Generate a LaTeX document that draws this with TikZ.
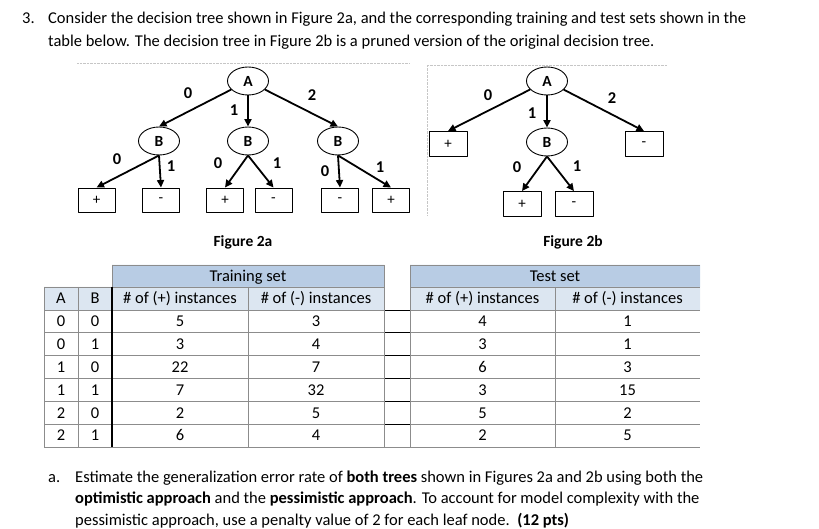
\documentclass[tikz,border=0pt]{standalone}
\usepackage{fontspec}
\setmainfont{Carlito}
\usetikzlibrary{shapes.geometric,arrows.meta}
\definecolor{hdrblue}{RGB}{184,204,228}
\definecolor{subblue}{RGB}{220,230,241}
\definecolor{gridgray}{RGB}{140,140,140}
\begin{document}
\begin{tikzpicture}[x=1pt, y=-1pt, line join=round, >={Triangle[length=7.5pt,width=7pt]},
	font=\fontsize{16.5}{19}\selectfont,
	dnode/.style={ellipse, draw, line width=0.9pt, minimum width=41pt, minimum height=28pt, inner sep=0pt, font=\fontsize{15.5}{17}\selectfont\bfseries},
	leaf/.style={rectangle, draw, line width=0.9pt, minimum width=37pt, minimum height=24pt, inner sep=0pt, font=\fontsize{15}{17}\selectfont},
	elab/.style={inner sep=0pt, font=\fontsize{16.5}{18}\selectfont\bfseries},
	branch/.style={->, line width=1.8pt},
	figcap/.style={inner sep=0pt, font=\fontsize{15.5}{18}\selectfont\bfseries},
	txtline/.style={anchor=base west, inner sep=0pt},
	cell/.style={anchor=base, inner sep=0pt},
	grid/.style={draw=gridgray, line width=0.7pt}]
	\useasboundingbox (0,0) rectangle (819,529);
	% question text
	\node[txtline] (q3) at (22,24) {3.};
	\node[txtline] (q1) at (48,24) {Consider the decision tree shown in Figure 2a, and the corresponding training and test sets shown in the};
	\node[txtline] (q2) at (48,46.7) {table below. The decision tree in Figure 2b is a pruned version of the original decision tree.};
	%
	% Figure 2a
	\draw[densely dotted, gray!45] (77,63) -- (410,63);
	\node[dnode] (A) at (248,81) {A};
	\node[dnode] (B1) at (159,141) {B};
	\node[dnode] (B2) at (248,141) {B};
	\node[dnode] (B3) at (338,141) {B};
	\node[leaf] (L1) at (96.5,200) {+};
	\node[leaf] (L2) at (161,200) {-};
	\node[leaf] (L3) at (225,200) {+};
	\node[leaf] (L4) at (273.5,200) {-};
	\node[leaf] (L5) at (340,200) {-};
	\node[leaf] (L6) at (391,200) {+};
	\draw[branch] (A) -- (B1.north);
	\draw[branch] (A) -- (B2);
	\draw[branch] (A) -- (B3.north);
	\draw[branch] (B1.south) -- (L1.north);
	\draw[branch] (B1.south) -- (L2.north);
	\draw[branch] (B2.south) -- (L3.north);
	\draw[branch] (B2.south) -- (L4.north);
	\draw[branch] (B3.south) -- (L5.north);
	\draw[branch] (B3.south) -- (L6.north);
	\node[elab] (eA0) at (188,93) {0};
	\node[elab] (eA1) at (234,110) {1};
	\node[elab] (eA2) at (312,95) {2};
	\node[elab] (e10) at (117,159) {0};
	\node[elab] (e11) at (171,166) {1};
	\node[elab] (e20) at (218,163) {0};
	\node[elab] (e21) at (277,163) {1};
	\node[elab] (e30) at (325,171) {0};
	\node[elab] (e31) at (380,167) {1};
	\node[figcap] (figa) at (243,242) {Figure 2a};
	%
	% Figure 2b
	\draw[densely dotted, gray!45] (427,215) -- (427,65) -- (667,65);
	\node[dnode] (pA) at (547,81) {A};
	\node[dnode] (pB) at (547,142) {B};
	\node[leaf, minimum width=38pt, minimum height=25pt] (P1) at (448,144) {+};
	\node[leaf, minimum width=38pt, minimum height=25pt] (P2) at (644,144) {-};
	\node[leaf, minimum width=38pt, minimum height=25pt] (P3) at (522,204) {+};
	\node[leaf, minimum width=38pt, minimum height=25pt] (P4) at (574,204) {-};
	\draw[branch] (pA) -- (P1.north);
	\draw[branch] (pA) -- (pB);
	\draw[branch] (pA) -- (P2.north);
	\draw[branch] (pB.south) -- (P3.north);
	\draw[branch] (pB.south) -- (P4.north);
	\node[elab] (fA0) at (488,95) {0};
	\node[elab] (fA1) at (532,113) {1};
	\node[elab] (fA2) at (612,98) {2};
	\node[elab] (fB0) at (517,167) {0};
	\node[elab] (fB1) at (577,166) {1};
	\node[figcap] (figb) at (573,242) {Figure 2b};
	%
	% tables
	\fill[hdrblue] (112,265) rectangle (384,287) (410,265) rectangle (700,287);
	\fill[subblue] (44,287) rectangle (384,310) (410,287) rectangle (700,310);
	\draw[grid] (112,265) -- (384,265) (410,265) -- (700,265)
		(44,287) -- (384,287) (410,287) -- (700,287);
	\foreach \i in {0,...,6}
		\draw[grid] (44,{310+22.83*\i}) -- (700,{310+22.83*\i});
	\foreach \i in {0,...,5}
		\draw[line width=0.9pt] (384,{310+22.83*\i}) -- (410,{310+22.83*\i});
	\draw[grid] (44,287) -- (44,447) (78,287) -- (78,447) (112,265) -- (112,287)
		(248,287) -- (248,447) (384,265) -- (384,447) (410,265) -- (410,447)
		(555,287) -- (555,447);
	\draw[line width=2pt] (112,287) -- (112,447);
	\node[cell] (trn) at (248,281.5) {Training set};
	\node[cell] (tst) at (555,281.5) {Test set};
	\node[cell] (hA) at (61,304) {A};
	\node[cell] (hB) at (95,304) {B};
	\node[cell] (hp) at (180,304) {\# of (+) instances};
	\node[cell] (hm) at (316,304) {\# of (-) instances};
	\node[cell] (hp2) at (482.5,304) {\# of (+) instances};
	\node[cell] (hm2) at (627.5,304) {\# of (-) instances};
	\foreach \a/\b/\p/\m/\tp/\tm [count=\i] in {0/0/5/3/4/1, 0/1/3/4/3/1, 1/0/22/7/6/3, 1/1/7/32/3/15, 2/0/2/5/5/2, 2/1/6/4/2/5} {
		\pgfmathsetmacro\yy{304+22.83*\i}
		\node[cell] (a\i) at (61,\yy) {\a};
		\node[cell] (b\i) at (95,\yy) {\b};
		\node[cell] (p\i) at (180,\yy) {\p};
		\node[cell] (m\i) at (316,\yy) {\m};
		\node[cell] (tp\i) at (482.5,\yy) {\tp};
		\node[cell] (tm\i) at (627.5,\yy) {\tm};
	}
	%
	% part a
	\node[txtline] (qa) at (48,482) {a.};
	\node[txtline] (qa1) at (75,482) {Estimate the generalization error rate of \textbf{both trees} shown in Figures 2a and 2b using both the};
	\node[txtline] (qa2) at (75,503.5) {\textbf{optimistic approach} and the \textbf{pessimistic approach}. To account for model complexity with the};
	\node[txtline] (qa3) at (75,525) {pessimistic approach, use a penalty value of 2 for each leaf node.\ \ \textbf{(12 pts)}};
\end{tikzpicture}
\end{document}
